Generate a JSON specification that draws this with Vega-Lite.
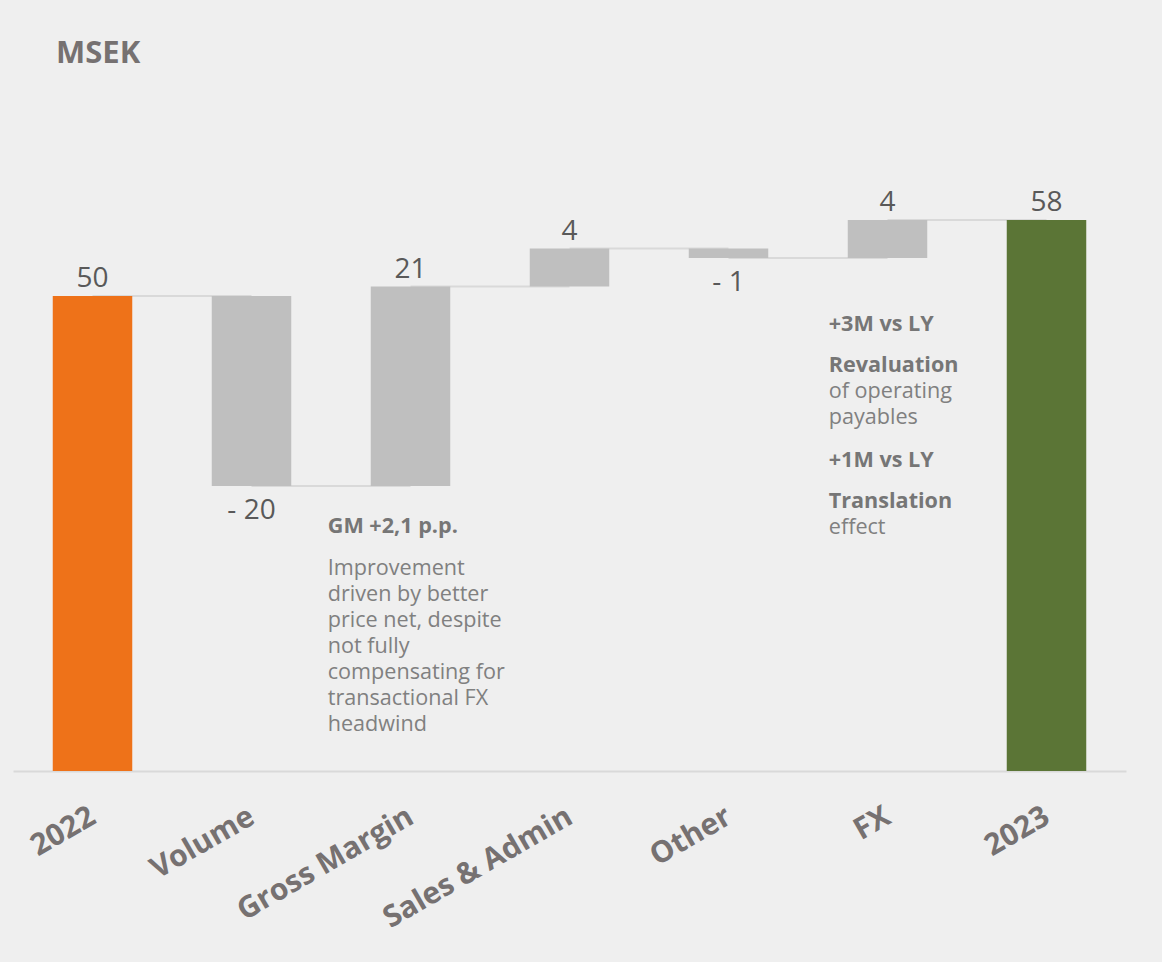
{
  "$schema": "https://vega.github.io/schema/vega-lite/v6.json",
  "width": 1113,
  "height": 570,
  "autosize": {"type": "none"},
  "padding": {"left": 13, "top": 201, "right": 36, "bottom": 191},
  "background": "#efefef",
  "config": {"view": {"stroke": null}, "font": "Open Sans"},
  "title": {
    "text": "MSEK",
    "anchor": "start",
    "frame": "group",
    "font": "Open Sans",
    "fontSize": 31,
    "fontWeight": "bold",
    "color": "#767171",
    "baseline": "alphabetic",
    "offset": 95,
    "dx": 43
  },
  "datasets": {
    "bars": [
      {"cat": "2022", "start": 0, "end": 50, "label": "50", "kind": "total2022"},
      {"cat": "Volume", "start": 50, "end": 30, "label": "- 20", "kind": "neg"},
      {"cat": "Gross Margin", "start": 30, "end": 51, "label": "21", "kind": "pos"},
      {"cat": "Sales & Admin", "start": 51, "end": 55, "label": "4", "kind": "pos"},
      {"cat": "Other", "start": 55, "end": 54, "label": "- 1", "kind": "neg"},
      {"cat": "FX", "start": 54, "end": 58, "label": "4", "kind": "pos"},
      {"cat": "2023", "start": 0, "end": 58, "label": "58", "kind": "total2023"}
    ],
    "links": [
      {"cat": "2022", "next": "Volume", "level": 50},
      {"cat": "Volume", "next": "Gross Margin", "level": 30},
      {"cat": "Gross Margin", "next": "Sales & Admin", "level": 51},
      {"cat": "Sales & Admin", "next": "Other", "level": 55},
      {"cat": "Other", "next": "FX", "level": 54},
      {"cat": "FX", "next": "2023", "level": 58}
    ],
    "notes": [
      {"cat": "Gross Margin", "level": 25.68, "text": "GM +2,1 p.p.", "kind": "head"},
      {"cat": "Gross Margin", "level": 21.26, "text": "Improvement", "kind": "body"},
      {"cat": "Gross Margin", "level": 18.53, "text": "driven by better", "kind": "body"},
      {"cat": "Gross Margin", "level": 15.79, "text": "price net, despite", "kind": "body"},
      {"cat": "Gross Margin", "level": 13.05, "text": "not fully", "kind": "body"},
      {"cat": "Gross Margin", "level": 10.32, "text": "compensating for", "kind": "body"},
      {"cat": "Gross Margin", "level": 7.58, "text": "transactional FX", "kind": "body"},
      {"cat": "Gross Margin", "level": 4.84, "text": "headwind", "kind": "body"},
      {"cat": "FX", "level": 46.95, "text": "+3M vs LY", "kind": "head"},
      {"cat": "FX", "level": 42.63, "text": "Revaluation", "kind": "head"},
      {"cat": "FX", "level": 39.89, "text": "of operating", "kind": "body"},
      {"cat": "FX", "level": 37.16, "text": "payables", "kind": "body"},
      {"cat": "FX", "level": 32.63, "text": "+1M vs LY", "kind": "head"},
      {"cat": "FX", "level": 28.32, "text": "Translation", "kind": "head"},
      {"cat": "FX", "level": 25.58, "text": "effect", "kind": "body"}
    ]
  },
  "encoding": {
    "x": {
      "field": "cat",
      "type": "nominal",
      "sort": ["2022", "Volume", "Gross Margin", "Sales & Admin", "Other", "FX", "2023"],
      "scale": {
        "domain": ["2022", "Volume", "Gross Margin", "Sales & Admin", "Other", "FX", "2023"],
        "paddingInner": 0.5,
        "paddingOuter": 0.25
      },
      "axis": {
        "title": null,
        "domain": true,
        "domainColor": "#d9d9d9",
        "domainWidth": 2,
        "ticks": false,
        "grid": false,
        "labelAngle": -30,
        "labelFont": "Open Sans",
        "labelFontSize": 30,
        "labelFontWeight": "bold",
        "labelColor": "#767171",
        "labelPadding": 30,
        "labelLimit": 400,
        "labelOffset": -7
      }
    }
  },
  "layer": [
    {
      "data": {"name": "links"},
      "mark": {"type": "rule", "color": "#d9d9d9", "strokeWidth": 2},
      "encoding": {
        "x2": {"field": "next"},
        "y": {"field": "level", "type": "quantitative", "scale": {"domain": [0, 60], "nice": false}, "axis": null}
      }
    },
    {
      "data": {"name": "bars"},
      "mark": {"type": "bar"},
      "encoding": {
        "y": {"field": "start", "type": "quantitative", "scale": {"domain": [0, 60], "nice": false}, "axis": null},
        "y2": {"field": "end"},
        "color": {
          "field": "kind",
          "type": "nominal",
          "scale": {"domain": ["total2022", "neg", "pos", "total2023"], "range": ["#ee7219", "#bfbfbf", "#bfbfbf", "#5b7536"]},
          "legend": null
        }
      }
    },
    {
      "data": {"name": "bars"},
      "transform": [{"filter": "datum.kind !== 'neg'"}],
      "mark": {"type": "text", "font": "Open Sans", "fontSize": 28, "color": "#595959", "baseline": "middle", "dy": -17},
      "encoding": {
        "y": {"field": "end", "type": "quantitative", "scale": {"domain": [0, 60], "nice": false}, "axis": null},
        "text": {"field": "label"}
      }
    },
    {
      "data": {"name": "bars"},
      "transform": [{"filter": "datum.kind === 'neg'"}],
      "mark": {"type": "text", "font": "Open Sans", "fontSize": 28, "color": "#595959", "baseline": "middle", "dy": 25},
      "encoding": {
        "y": {"field": "end", "type": "quantitative", "scale": {"domain": [0, 60], "nice": false}, "axis": null},
        "text": {"field": "label"}
      }
    },
    {
      "data": {"name": "notes"},
      "transform": [{"filter": "datum.kind === 'head' && datum.cat === 'Gross Margin'"}],
      "mark": {"type": "text", "font": "Open Sans", "fontSize": 21.6, "fontWeight": "bold", "color": "#767676", "align": "left", "baseline": "middle", "dx": -43},
      "encoding": {
        "x": {"field": "cat", "type": "nominal", "bandPosition": 0},
        "y": {"field": "level", "type": "quantitative", "scale": {"domain": [0, 60], "nice": false}, "axis": null},
        "text": {"field": "text"}
      }
    },
    {
      "data": {"name": "notes"},
      "transform": [{"filter": "datum.kind === 'body' && datum.cat === 'Gross Margin'"}],
      "mark": {"type": "text", "font": "Open Sans", "fontSize": 21.6, "color": "#808080", "align": "left", "baseline": "middle", "dx": -43},
      "encoding": {
        "x": {"field": "cat", "type": "nominal", "bandPosition": 0},
        "y": {"field": "level", "type": "quantitative", "scale": {"domain": [0, 60], "nice": false}, "axis": null},
        "text": {"field": "text"}
      }
    },
    {
      "data": {"name": "notes"},
      "transform": [{"filter": "datum.kind === 'head' && datum.cat === 'FX'"}],
      "mark": {"type": "text", "font": "Open Sans", "fontSize": 21.6, "fontWeight": "bold", "color": "#767676", "align": "left", "baseline": "middle", "dx": -19},
      "encoding": {
        "x": {"field": "cat", "type": "nominal", "bandPosition": 0},
        "y": {"field": "level", "type": "quantitative", "scale": {"domain": [0, 60], "nice": false}, "axis": null},
        "text": {"field": "text"}
      }
    },
    {
      "data": {"name": "notes"},
      "transform": [{"filter": "datum.kind === 'body' && datum.cat === 'FX'"}],
      "mark": {"type": "text", "font": "Open Sans", "fontSize": 21.6, "color": "#808080", "align": "left", "baseline": "middle", "dx": -19},
      "encoding": {
        "x": {"field": "cat", "type": "nominal", "bandPosition": 0},
        "y": {"field": "level", "type": "quantitative", "scale": {"domain": [0, 60], "nice": false}, "axis": null},
        "text": {"field": "text"}
      }
    }
  ]
}
